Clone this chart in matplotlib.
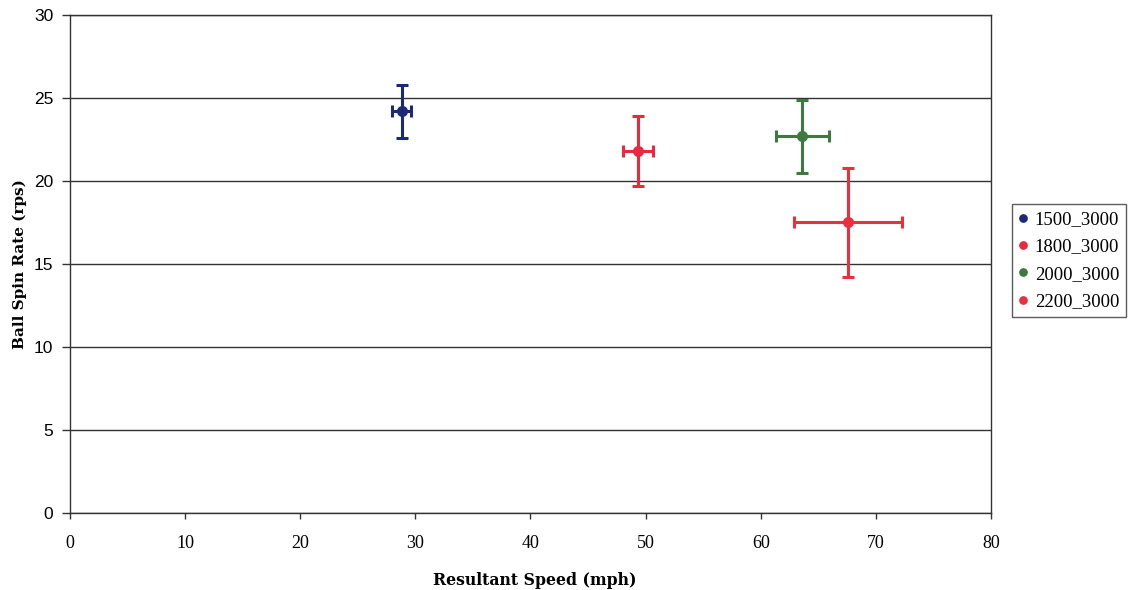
import matplotlib
matplotlib.use("Agg")
import matplotlib.pyplot as plt

# Mean resultant speed / spin rate per launch setting, with standard deviations
series = ["1500_3000", "1800_3000", "2000_3000", "2200_3000"]
speed = [28.8, 49.3, 63.6, 67.6]
speed_sd = [0.8, 1.3, 2.3, 4.7]
spin = [24.2, 21.8, 22.7, 17.5]
spin_sd = [1.6, 2.1, 2.2, 3.3]
colors = ["#1b2a78", "#e82a40", "#3d7a3f", "#e8303f"]

x_ticks = list(range(0, 81, 10))
y_ticks = list(range(0, 31, 5))

fig = plt.figure(figsize=(11.31, 5.90), dpi=100)
ax = fig.add_axes([0.0619, 0.1305, 0.8143, 0.8441])

for yv in y_ticks:
    ax.axhline(yv, color="#333333", lw=1.0, zorder=1)

handles = []
for name, x, xe, y, ye, c in zip(series, speed, speed_sd, spin, spin_sd, colors):
    ax.errorbar(x, y, xerr=xe, yerr=ye, fmt="none", ecolor=c, elinewidth=2.2,
                capsize=4.5, capthick=2.2, zorder=3)
    h, = ax.plot(x, y, "o", color=c, ms=7, zorder=4, label=name)
    handles.append(h)

ax.set_xlim(0, 80)
ax.set_ylim(0, 30)
ax.set_xticks(x_ticks)
ax.set_yticks(y_ticks)
ax.tick_params(direction="out", length=5, width=1, color="#333333")
ax.tick_params(axis="x", length=4, pad=12)
ax.tick_params(axis="y", length=6, pad=6)
for lab in ax.get_xticklabels():
    lab.set_family("Liberation Serif")
    lab.set_fontsize(13)
for lab in ax.get_yticklabels():
    lab.set_family("Liberation Sans")
    lab.set_fontsize(12.5)
for spine in ax.spines.values():
    spine.set_color("#333333")
    spine.set_linewidth(1.0)

ax.set_xlabel("Resultant Speed (mph)", family="DejaVu Serif", weight="bold",
              fontsize=11.3)
ax.xaxis.set_label_coords(0.505, -0.118)
ax.set_ylabel("Ball Spin Rate (rps)", family="DejaVu Serif", weight="bold",
              fontsize=11, labelpad=5)

leg = fig.legend(handles=handles, loc="center left", bbox_to_anchor=(0.895, 0.558),
                 frameon=True, fancybox=False, edgecolor="#333333", handlelength=0.5,
                 handletextpad=0.35, markerscale=0.75, borderpad=0.35, labelspacing=0.55,
                 borderaxespad=0, prop={"family": "Liberation Serif", "size": 13.5})
leg.get_frame().set_linewidth(1.0)

fig.savefig("out.png", dpi=100)
